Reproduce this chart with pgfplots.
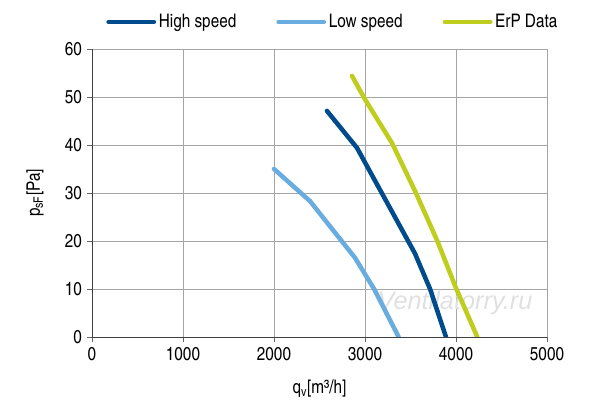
\documentclass[border=0pt]{standalone}
\usepackage{fontspec}
\setmainfont{TeX Gyre Heros Cn}
\newfontfamily\wmfont{Liberation Sans}
\usepackage{pgfplots}
\pgfplotsset{compat=1.18}
\definecolor{hs}{RGB}{0,75,140}
\definecolor{ls}{RGB}{105,172,224}
\definecolor{erp}{RGB}{190,205,30}
\definecolor{gridc}{RGB}{165,165,165}
\begin{document}
\begin{tikzpicture}
\path[use as bounding box] (-69pt,-54pt) rectangle (381pt,252.75pt);
\begin{axis}[
  at={(0,0)}, anchor=south west,
  scale only axis, width=341.25pt, height=216pt,
  xmin=0, xmax=5000, ymin=0, ymax=60,
  xtick={0,1000,...,5000}, ytick={0,10,...,60},
  grid=major, major grid style={gridc, line width=0.7pt},
  axis x line=bottom, axis y line=left,
  axis line style={-, black!75, line width=0.7pt},
  tick style={black!60, line width=0.7pt}, tick align=outside, major tick length=4pt,
  font=\fontsize{14}{16}\selectfont,
  /pgf/number format/assume math mode=true,
  scaled x ticks=false,
  xticklabel style={/pgf/number format/set thousands separator={}},
  xlabel={q\textsubscript{v}[m³/h]},
  ylabel={p\textsubscript{sF}[Pa]},
  xlabel style={at={(axis description cs:0.5,-0.18)}, anchor=center},
  ylabel style={at={(axis description cs:-0.125,0.5)}, anchor=center},
  legend style={at={(axis description cs:0.53,1.094)}, anchor=center, draw=none, fill=none,
    legend columns=3, /tikz/every even column/.append style={column sep=28pt},
    font=\fontsize{14}{16}\selectfont, inner sep=0pt},
  legend image code/.code={\draw[#1, line cap=round] (0pt,0pt) -- (34pt,0pt);},
]
\node[font=\wmfont\itshape\fontsize{19}{20}\selectfont, text=black!12] at (axis cs:3989,7.1) {Ventilatorry.ru};
\addplot[hs, line width=3.4pt, line cap=round, line join=round] coordinates {
  (2582,47.1) (2912,39.4) (3549,17.4) (3715,10) (3890,0)};
\addlegendentry{High speed}
\addplot[ls, line width=3.4pt, line cap=round, line join=round] coordinates {
  (2000,35) (2396,28.3) (2890,16.5) (3100,10) (3370,0)};
\addlegendentry{Low speed}
\addplot[erp, line width=3.4pt, line cap=round, line join=round] coordinates {
  (2857,54.4) (3000,49.5) (3297,40.4) (3560,30) (3795,20) (4004,10) (4234,0)};
\addlegendentry{ErP Data}
\end{axis}
\end{tikzpicture}
\end{document}
